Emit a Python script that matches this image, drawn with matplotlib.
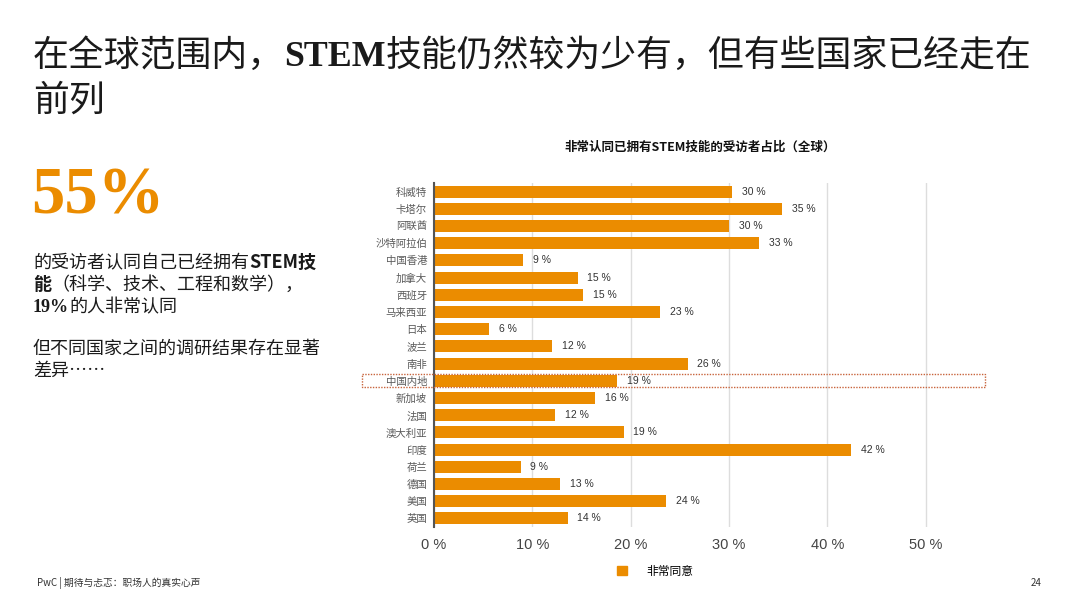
import matplotlib
matplotlib.use('Agg')
import matplotlib.pyplot as plt
from matplotlib.patches import Rectangle, Patch
from matplotlib.transforms import IdentityTransform, blended_transform_factory

plt.rcParams['font.family'] = ['Noto Sans CJK SC', 'DejaVu Sans']

# data
countries = ['科威特', '卡塔尔', '阿联酋', '沙特阿拉伯', '中国香港', '加拿大', '西班牙',
             '马来西亚', '日本', '波兰', '南非', '中国内地', '新加坡', '法国',
             '澳大利亚', '印度', '荷兰', '德国', '美国', '英国']
values = [30.3, 35.4, 30.0, 33.1, 9.1, 14.6, 15.2, 23.0, 5.6, 12.0, 25.8, 18.6,
          16.4, 12.3, 19.3, 42.4, 8.8, 12.8, 23.6, 13.6]
xticks = [0, 10, 20, 30, 40, 50]
highlight = '中国内地'
series_name = '非常同意'

ORANGE = '#EB8C00'
W, H = 1080, 608
SERIF = ['Liberation Serif', 'DejaVu Serif']
ARIAL = ['Liberation Sans', 'DejaVu Sans']

fig = plt.figure(figsize=(W / 100, H / 100), dpi=100)
renderer = fig.canvas.get_renderer()


def run(x, y, parts, size, color='#1a1a1a'):
    # draw text pieces one after another on a common baseline (pixel coords, y from top)
    for txt, kw in parts:
        t = fig.text(x, H - y, txt, fontsize=size, color=kw.pop('color', color),
                     va='baseline', ha='left', transform=IdentityTransform(), **kw)
        x = t.get_window_extent(renderer).x1
    return x


# slide title
run(33, 66, [('在全球范围内，', {}), ('STEM', dict(family=SERIF, weight='bold')),
             ('技能仍然较为少有，但有些国家已经走在', {})], 25.8)
run(33, 111, [('前列', {})], 25.8)

# big number and side text
run(31, 214, [('55%', dict(family=SERIF, weight='bold', color=ORANGE))], 48)
run(33, 268, [('的受访者认同自己已经拥有', {}), ('STEM技', dict(weight='bold'))], 13)
run(33, 290, [('能', dict(weight='bold')), ('（科学、技术、工程和数学），', {})], 13)
run(33, 312, [('19%', dict(family=SERIF, weight='bold')), ('的人非常认同', {})], 13)
run(33, 354, [('但不同国家之间的调研结果存在显著', {})], 13)
run(33, 376, [('差异……', {})], 13)

# bar chart
ax = fig.add_axes([434 / W, 1 - 527 / H, (960 - 434) / W, (527 - 183) / H])
n = len(countries)
ypos = list(range(n))
ax.barh(ypos, values, height=0.7, color=ORANGE, zorder=3)
for y, v in zip(ypos, values):
    ax.annotate(f'{round(v)} %', xy=(v, y), xytext=(7, 0), textcoords='offset points',
                va='center', ha='left', fontsize=7.5, color='#333333', family=ARIAL)

ax.set_xlim(0, 53.5)
ax.set_ylim(n - 0.5, -0.5)
ax.set_xticks(xticks)
ax.set_xticklabels([f'{t} %' for t in xticks], fontsize=10.5, color='#444444', family=ARIAL)
ax.set_yticks(ypos)
ax.set_yticklabels(countries, fontsize=7.5, color='#5a5a5a')
ax.tick_params(axis='both', length=0)
ax.tick_params(axis='x', pad=8)
ax.tick_params(axis='y', pad=5)
ax.grid(axis='x', color='#dddddd', linewidth=1, zorder=0)
for s in ['top', 'right', 'bottom']:
    ax.spines[s].set_visible(False)
ax.spines['left'].set_color('#555555')
ax.spines['left'].set_linewidth(1.5)
ax.spines['left'].set_zorder(4)

# dotted box round the highlighted row
hi = countries.index(highlight)
trans = blended_transform_factory(fig.transFigure, ax.transData)
ax.add_patch(Rectangle((362 / W, hi - 0.38), (985 - 362) / W, 0.76, transform=trans,
                       fill=False, edgecolor='#C8643C', linestyle=(0, (1, 1)),
                       linewidth=1, clip_on=False, zorder=5))

fig.text(700 / W, 1 - 147 / H, '非常认同已拥有STEM技能的受访者占比（全球）',
         ha='center', va='center', fontsize=9, weight='bold', color='#111111')

fig.legend(handles=[Patch(color=ORANGE, label=series_name)], loc='center',
           bbox_to_anchor=(655 / W, 1 - 571 / H), frameon=False, fontsize=8.5,
           handlelength=0.9, handleheight=0.9, handletextpad=1.6)

# footer
fig.text(37 / W, 1 - 583 / H, 'PwC | 期待与忐忑：职场人的真实心声', ha='left', va='center',
         fontsize=7, color='#333333')
fig.text(1042 / W, 1 - 583 / H, '24', ha='right', va='center', fontsize=7, color='#333333')

fig.savefig('out.png', dpi=100)
